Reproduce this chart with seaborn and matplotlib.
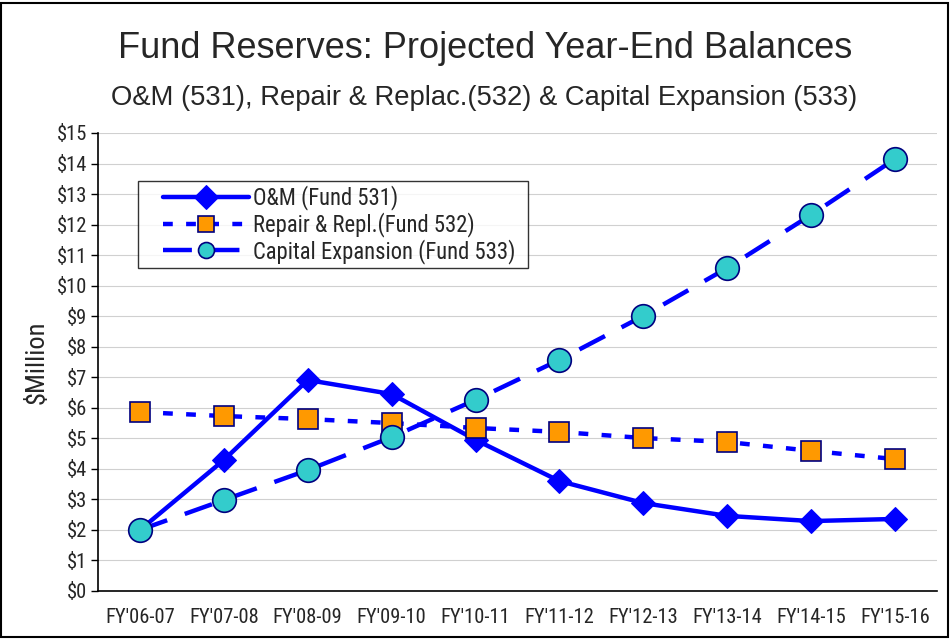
import matplotlib
matplotlib.use("Agg")
import matplotlib.pyplot as plt
from matplotlib import font_manager
from matplotlib.font_manager import FontProperties
from matplotlib.patches import Rectangle
from matplotlib.lines import Line2D
from matplotlib.legend_handler import HandlerLine2D
import seaborn as sns
import pandas as pd

categories = ["FY'06-07", "FY'07-08", "FY'08-09", "FY'09-10", "FY'10-11",
              "FY'11-12", "FY'12-13", "FY'13-14", "FY'14-15", "FY'15-16"]
om_531 = [2.00, 4.29, 6.91, 6.45, 4.95, 3.60, 2.88, 2.46, 2.29, 2.36]
repair_532 = [5.86, 5.73, 5.63, 5.50, 5.34, 5.21, 5.01, 4.88, 4.59, 4.32]
capital_533 = [2.00, 2.98, 3.96, 5.04, 6.26, 7.57, 9.01, 10.58, 12.32, 14.15]
series_names = ["O&M (Fund 531)", "Repair & Repl.(Fund 532)", "Capital Expansion (Fund 533)"]
y_ticks = list(range(0, 16))
y_tick_labels = [f"${v}" for v in y_ticks]

sns.set_style("white")
names = {f.name for f in font_manager.fontManager.ttflist}
main_font = "Liberation Sans" if "Liberation Sans" in names else "DejaVu Sans"
plt.rcParams["font.family"] = [main_font, "DejaVu Sans"]

# look for a condensed / narrow sans face
narrow_file = None
for pref in ["LiberationSansNarrow-Regular", "ArialNarrow", "RobotoCondensed-Regular",
             "DejaVuSansCondensed.ttf", "OpenSans_Condensed-Regular", "OpenSansCondensed"]:
    for f in font_manager.fontManager.ttflist:
        if pref.lower() in f.fname.lower().replace(" ", ""):
            narrow_file = f.fname
            break
    if narrow_file:
        break

def tick_fp(size):
    if narrow_file:
        return FontProperties(fname=narrow_file, size=size)
    return FontProperties(family=main_font, size=size)

narrow = narrow_file is not None
tick_size = 14.8 if narrow else 13.2
ylab_size = 19 if narrow else 18
leg_size = 16.3 if narrow else 14.5

fig = plt.figure(figsize=(9.51, 6.39), dpi=100)
ax = fig.add_axes([98 / 951, 1 - 591 / 639, (937 - 98) / 951, (591 - 133) / 639])

x = list(range(len(categories)))
df = pd.DataFrame({"x": x, "om": om_531, "rep": repair_532, "cap": capital_533})

sns.lineplot(data=df, x="x", y="om", ax=ax, color="#0000FF", lw=3.2,
             marker="D", markersize=12, markerfacecolor="#0000FF",
             markeredgecolor="#0000FF", label=series_names[0], zorder=3)
sns.lineplot(data=df, x="x", y="rep", ax=ax, color="#0000FF", lw=3.2,
             dashes=(2.2, 3.0), marker="s", markersize=14,
             markerfacecolor="#FF9900", markeredgecolor="#000080",
             markeredgewidth=1.2, label=series_names[1], zorder=3)
sns.lineplot(data=df, x="x", y="cap", ax=ax, color="#0000FF", lw=3.2,
             dashes=(6.5, 4.2), marker="o", markersize=17,
             markerfacecolor="#33CCCC", markeredgecolor="#000080",
             markeredgewidth=1.2, label=series_names[2], zorder=4)

ax.set_xlim(-0.5, len(categories) - 0.5)
ax.set_ylim(0, 15)
ax.set_yticks(y_ticks)
ax.set_yticklabels(y_tick_labels, fontproperties=tick_fp(tick_size))
ax.set_xticks(x)
ax.set_xticklabels(categories, fontproperties=tick_fp(tick_size))
ax.set_xticks([i - 0.5 for i in range(len(categories) + 1)], minor=True)
ax.tick_params(axis="x", which="major", length=0, pad=12)
ax.tick_params(axis="x", which="minor", length=5, width=1, color="black", direction="out")
ax.tick_params(axis="y", length=5, width=1, color="black", direction="out", pad=3, left=True)
ax.grid(axis="y", color="#D0D0D0", lw=0.8)
ax.set_axisbelow(True)
for s in ["top", "right"]:
    ax.spines[s].set_visible(False)
for s in ["left", "bottom"]:
    ax.spines[s].set_color("black")
    ax.spines[s].set_linewidth(1.2)
ax.set_xlabel("")
ax.set_ylabel("$Million", fontproperties=tick_fp(ylab_size), labelpad=6)

fs_px = leg_size * 100 / 72
leg = ax.legend(loc="upper left", bbox_to_anchor=((138 - 98) / 839, 1 - (181 - 133) / 458),
                borderaxespad=0, frameon=True, fancybox=False,
                handlelength=(248 - 142) / fs_px, borderpad=0.2,
                labelspacing=0.08, handletextpad=4 / fs_px,
                prop=tick_fp(leg_size),
                handler_map={Line2D: HandlerLine2D(xpad=20 / fs_px)})
leg.get_frame().set_edgecolor("black")
leg.get_frame().set_linewidth(1.0)
for h, ms in zip(leg.legend_handles, [12.5, 11, 11.5]):
    h.set_markersize(ms)
# widen the legend box a little (extra room on the right, as in the reference)
try:
    pad_px = 0.2 * leg_size * 100 / 72
    leg._legend_box.width = (528 - 138) - 2 * pad_px
    leg._legend_box.align = "left"
except Exception:
    pass

fig.text(485 / 951, 1 - 49 / 639, "Fund Reserves: Projected Year-End Balances",
         ha="center", va="center", fontsize=26)
fig.text(484 / 951, 1 - 98 / 639, "O&M (531), Repair & Replac.(532) & Capital Expansion (533)",
         ha="center", va="center", fontsize=19.7)

fig.patches.append(Rectangle((1 / 951, 2 / 639), 947 / 951, 634 / 639,
                             transform=fig.transFigure, fill=False,
                             edgecolor="black", lw=1.5))

fig.savefig("out.png", dpi=100)
